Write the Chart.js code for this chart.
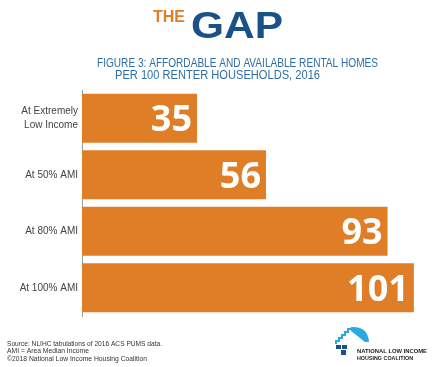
<!DOCTYPE html>
<html>
<head>
<meta charset="utf-8">
<script src="https://cdn.jsdelivr.net/npm/chart.js@4"></script>
<style>
  body { margin: 0; background: #fff; }
  canvas { display: block; }
</style>
</head>
<body>
<canvas id="gapChart" width="434" height="367"></canvas>
<script>
// data
const categories = [['At Extremely', 'Low Income'], 'At 50% AMI', 'At 80% AMI', 'At 100% AMI'];
const homesPer100 = [35, 56, 93, 101];
const subtitleLines = ['FIGURE 3: AFFORDABLE AND AVAILABLE RENTAL HOMES', 'PER 100 RENTER HOUSEHOLDS, 2016'];
const footerLines = ['Source: NLIHC tabulations of 2016 ACS PUMS data.', 'AMI = Area Median Income', '\u00a92018 National Low Income Housing Coalition'];

const orange = '#df7e27';
const navy = '#1b5189';
const blue = '#2f6ea5';

// draw text squeezed/stretched to a given width (left edge at x)
function fitText(ctx, text, x, y, w) {
    const m = ctx.measureText(text).width;
    ctx.save();
    ctx.translate(x, y);
    ctx.scale(w / m, 1);
    ctx.textAlign = 'left';
    ctx.fillText(text, 0, 0);
    ctx.restore();
}

const gapDecor = {
    id: 'gapDecor',
    afterDatasetsDraw(chart) {
        // big white numbers inside the bars
        const ctx = chart.ctx;
        const meta = chart.getDatasetMeta(0);
        ctx.save();
        ctx.fillStyle = '#fff';
        ctx.font = 'bold 36px "Open Sans"';
        ctx.textAlign = 'right';
        ctx.textBaseline = 'alphabetic';
        meta.data.forEach((bar, i) => {
            ctx.fillText(String(homesPer100[i]), bar.x - 5, bar.y + 13);
        });
        ctx.restore();
    },
    afterDraw(chart) {
        const ctx = chart.ctx;
        ctx.save();
        ctx.textBaseline = 'alphabetic';

        // header "THE GAP"
        ctx.fillStyle = orange;
        ctx.font = 'bold 16px "Liberation Sans"';
        fitText(ctx, 'THE', 153, 22, 32);
        ctx.fillStyle = navy;
        ctx.font = 'bold 37px "Liberation Sans"';
        fitText(ctx, 'GAP', 191, 38, 92);

        // subtitle
        ctx.fillStyle = blue;
        ctx.font = '12px "Liberation Sans"';
        fitText(ctx, subtitleLines[0], 97, 66.5, 281);
        fitText(ctx, subtitleLines[1], 115, 79, 205);

        // footer notes
        ctx.fillStyle = '#333';
        ctx.font = '7.5px "Liberation Sans"';
        fitText(ctx, footerLines[0], 7, 345.5, 155);
        fitText(ctx, footerLines[1], 7, 353, 82);
        fitText(ctx, footerLines[2], 7, 360.5, 140);

        // NLIHC logo
        ctx.strokeStyle = '#29a9e1';
        ctx.lineWidth = 2;
        ctx.beginPath();
        ctx.moveTo(336, 344);
        ctx.lineTo(336, 341); ctx.lineTo(339, 341); ctx.lineTo(339, 338);
        ctx.lineTo(342, 338); ctx.lineTo(342, 335); ctx.lineTo(345, 335);
        ctx.lineTo(345, 332); ctx.lineTo(348, 332); ctx.lineTo(348, 329);
        ctx.lineTo(351, 329);
        ctx.stroke();
        ctx.fillStyle = '#29a9e1';
        ctx.beginPath();
        ctx.moveTo(351, 327);
        ctx.quadraticCurveTo(368, 326, 369, 342);
        ctx.lineTo(365, 342);
        ctx.lineTo(351, 331);
        ctx.closePath();
        ctx.fill();
        ctx.fillStyle = navy;
        ctx.fillRect(336, 345, 5, 4);
        ctx.fillRect(342, 345, 5, 4);
        ctx.fillRect(341, 350, 5, 5);

        ctx.fillStyle = '#222';
        ctx.font = 'bold 6px "Liberation Sans"';
        fitText(ctx, 'NATIONAL LOW INCOME', 357, 353, 70);
        fitText(ctx, 'HOUSING COALITION', 357, 360, 56);
        ctx.restore();
    }
};

new Chart(document.getElementById('gapChart'), {
    type: 'bar',
    data: {
        labels: categories,
        datasets: [{
            data: homesPer100,
            backgroundColor: orange,
            borderWidth: 0,
            categoryPercentage: 1,
            barPercentage: 0.87
        }]
    },
    options: {
        indexAxis: 'y',
        responsive: false,
        animation: false,
        layout: { padding: { top: 90, bottom: 51, right: 7, left: 0 } },
        plugins: {
            legend: { display: false },
            tooltip: { enabled: false }
        },
        scales: {
            x: {
                display: false,
                min: 0,
                max: 105
            },
            y: {
                afterFit(scale) { scale.width = 82; },
                grid: { display: false, drawTicks: false },
                border: { display: true, color: '#9a9a9a', width: 1 },
                ticks: {
                    color: '#444',
                    padding: 4,
                    font: { family: '"Liberation Sans"', size: 10, lineHeight: 1.35 }
                }
            }
        }
    },
    plugins: [gapDecor]
});
</script>
</body>
</html>
